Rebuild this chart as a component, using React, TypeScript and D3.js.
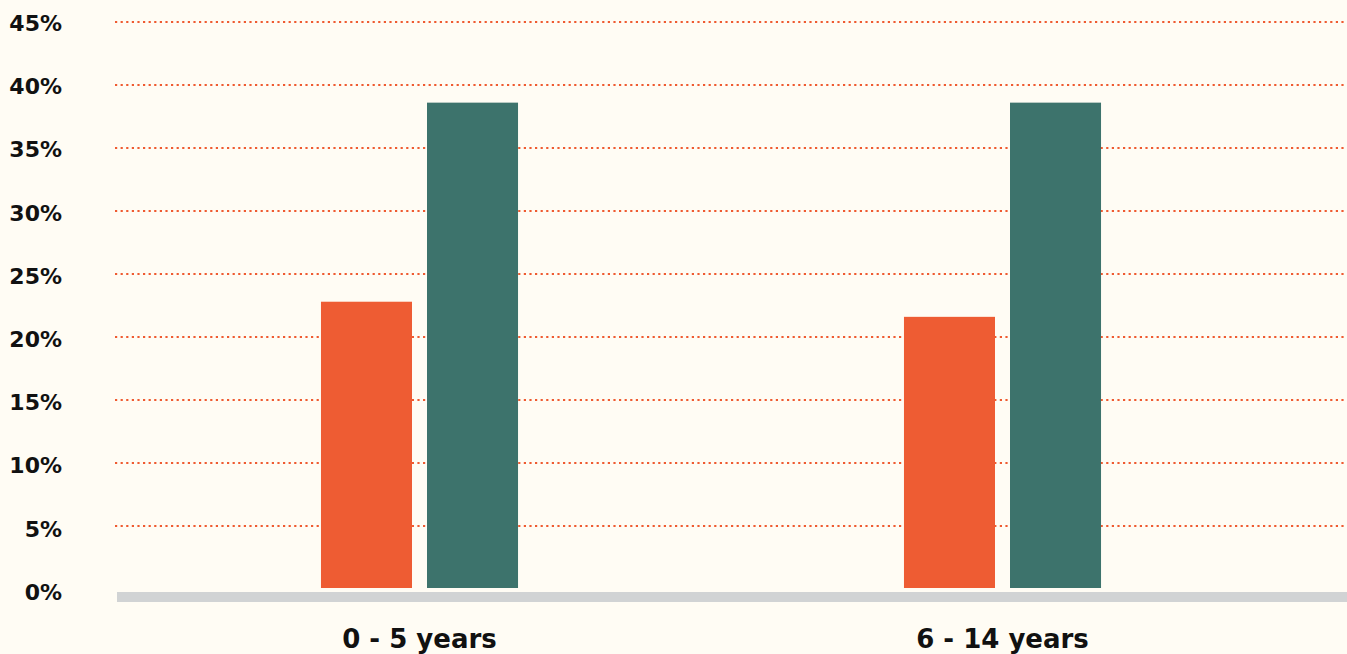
import React, { useEffect } from "react";
import * as d3 from "d3";

const categories = ["0 - 5 years", "6 - 14 years"];
const seriesNames = ["Series A", "Series B"];
const seriesA = [22.8, 21.6];
const seriesB = [38.6, 38.6];
const yTicks = [0, 5, 10, 15, 20, 25, 30, 35, 40, 45];
const colors = ["#EE5C33", "#3D736C"];

const W = 1347;
const H = 654;

export default function App() {
  useEffect(() => {
    document.body.style.margin = "0";
    document.body.style.background = "#FFFCF4";
  }, []);

  const y = d3.scaleLinear().domain([0, 45]).range([589, 22]);
  const yLabel = d3.scaleLinear().domain([0, 45]).range([592, 23]);
  const x0 = d3
    .scaleBand<string>()
    .domain(categories)
    .range([128, 1294])
    .paddingInner(0.662)
    .paddingOuter(0.331);
  const x1 = d3
    .scaleBand<string>()
    .domain(seriesNames)
    .range([0, x0.bandwidth()])
    .paddingInner(0.1415)
    .paddingOuter(0);

  const data = categories.map((c, i) => ({
    cat: c,
    values: [seriesA[i], seriesB[i]],
  }));

  const font = "'DejaVu Sans', sans-serif";

  return (
    <svg width={W} height={H} style={{ display: "block" }}>
      <rect x={0} y={0} width={W} height={H} fill="#FFFCF4" />
      {yTicks.map((t) => (
        <g key={t}>
          {t > 0 && (
            <line
              x1={115}
              x2={W}
              y1={y(t)}
              y2={y(t)}
              stroke="#EF5A30"
              strokeWidth={2.2}
              strokeDasharray="2.2,3.4"
            />
          )}
          <text
            x={62}
            y={yLabel(t)}
            dy="0.36em"
            textAnchor="end"
            fontFamily={font}
            fontWeight="bold"
            fontSize={22}
            fill="#111"
          >
            {t}%
          </text>
        </g>
      ))}
      <rect x={117} y={592} width={W - 117} height={10} fill="#D1D3D4" />
      {data.map((d) => (
        <g key={d.cat} transform={`translate(${x0(d.cat)},0)`}>
          {d.values.map((v, j) => (
            <rect
              key={j}
              x={x1(seriesNames[j])}
              y={y(v)}
              width={x1.bandwidth()}
              height={588 - y(v)}
              fill={colors[j]}
            />
          ))}
          <text
            x={x0.bandwidth() / 2}
            y={648}
            textAnchor="middle"
            fontFamily={font}
            fontWeight="bold"
            fontSize={26}
            fill="#111"
          >
            {d.cat}
          </text>
        </g>
      ))}
    </svg>
  );
}
